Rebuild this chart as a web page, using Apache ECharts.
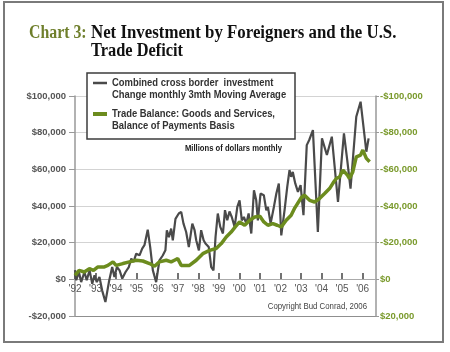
<!DOCTYPE html>
<html><head><meta charset="utf-8">
<script src="https://cdn.jsdelivr.net/npm/echarts@6/dist/echarts.min.js"></script>
<style>html,body{margin:0;padding:0;background:#fff}#c{width:450px;height:352px}</style>
</head><body><div id="c"></div>
<script>
// Combined cross border investment, change monthly, 3mth moving average ($ millions)
const investYears = [1992.00,1992.06,1992.19,1992.30,1992.46,1992.57,1992.71,1992.84,1992.95,1993.06,1993.19,1993.32,1993.48,1993.65,1993.81,1993.92,1994.04,1994.17,1994.30,1994.46,1994.62,1994.74,1994.85,1994.98,1995.14,1995.27,1995.38,1995.54,1995.66,1995.79,1995.95,1996.11,1996.27,1996.40,1996.47,1996.57,1996.68,1996.76,1996.89,1997.05,1997.17,1997.28,1997.41,1997.54,1997.71,1997.82,1997.90,1998.03,1998.14,1998.26,1998.35,1998.51,1998.63,1998.74,1998.84,1998.95,1999.07,1999.20,1999.30,1999.41,1999.52,1999.63,1999.77,1999.90,2000.01,2000.12,2000.22,2000.34,2000.45,2000.58,2000.71,2000.82,2000.90,2001.03,2001.19,2001.31,2001.39,2001.52,2001.68,2001.80,2001.92,2002.04,2002.20,2002.33,2002.44,2002.52,2002.60,2002.72,2002.85,2002.98,2003.12,2003.28,2003.40,2003.58,2003.82,2004.02,2004.26,2004.50,2004.65,2004.80,2005.09,2005.25,2005.41,2005.69,2005.90,2006.18,2006.29];
const investValues = [5000,-500,4000,-1500,4000,-500,4900,-2400,2200,-1500,1300,-6000,-12400,-1500,6700,1300,6700,4900,400,4000,6700,11300,9500,14000,13100,16800,18600,27100,17600,4900,-1500,10400,13000,15800,26700,23000,27700,21300,33000,35900,36800,30400,25800,17600,30400,26800,21300,15800,26800,21300,19500,17600,6700,4900,23100,35900,28600,25000,37700,32200,37000,34000,28600,39500,43100,32200,34000,30400,35900,25000,48600,43100,32200,46800,45900,37700,39500,30400,39500,46800,52300,24000,37700,50400,59600,55900,58600,52300,47700,51400,35000,73200,76000,81400,25800,76900,67800,77800,60000,42200,79600,65000,49500,88700,96900,69600,76900];

// Trade balance: goods and services, balance of payments basis ($ millions)
const tradeYears = [1992.00,1992.20,1992.45,1992.70,1992.90,1993.10,1993.40,1993.60,1993.85,1994.00,1994.33,1994.65,1994.98,1995.30,1995.63,1995.87,1996.11,1996.44,1996.68,1996.84,1997.00,1997.17,1997.57,1997.90,1998.22,1998.55,1998.87,1999.12,1999.36,1999.60,1999.80,2000.01,2000.26,2000.50,2000.75,2001.00,2001.19,2001.39,2001.63,2001.84,2002.04,2002.28,2002.52,2002.70,2003.01,2003.17,2003.42,2003.66,2003.90,2004.15,2004.39,2004.60,2004.72,2004.88,2005.04,2005.26,2005.36,2005.52,2005.69,2005.90,2006.01,2006.18,2006.34];
const tradeValues = [-2200,-4900,-4000,-5800,-4900,-6700,-6700,-7600,-9500,-7600,-8600,-9500,-10400,-10000,-8600,-7100,-9500,-10400,-9500,-10400,-11300,-7600,-7600,-10400,-14000,-15800,-16800,-19500,-23100,-25800,-28600,-31300,-29500,-32200,-34000,-34400,-31300,-29500,-30400,-29500,-28600,-32200,-35000,-39000,-44500,-45900,-43100,-42200,-44100,-46800,-49500,-53200,-55000,-55900,-59600,-56800,-55000,-58600,-66800,-67800,-70500,-66000,-64100];

const seriesNames = ['Combined cross border  investment\nChange monthly 3mth Moving Average', 'Trade Balance: Goods and Services,\nBalance of Payments Basis'];
const titleLead = 'Chart 3:';
const titleLine1 = 'Net Investment by Foreigners and the U.S.';
const titleLine2 = 'Trade Deficit';
const unitNote = 'Millions of dollars monthly';
const copyright = 'Copyright Bud Conrad, 2006';

const money = v => (v < 0 ? '-' : '') + '$' + Math.abs(v).toLocaleString('en-US');
const GRAY = '#4a4a4a', GREEN = '#6c8c1e';
const SANS = 'Liberation Sans, Arial, sans-serif';
const NARROW = "'Liberation Sans Narrow', 'Arial Narrow', 'Liberation Sans', sans-serif";
const SERIF = "'Liberation Serif', 'Times New Roman', serif";

const chart = echarts.init(document.getElementById('c'), null, {renderer: 'canvas'});
const legendLines = seriesNames.map(s => s.split('\n'));

chart.setOption({
  animation: false,
  backgroundColor: '#fff',
  grid: {left: 75, right: 74, top: 96, bottom: 36, containLabel: false},
  xAxis: {
    type: 'value', min: 1992, max: 2006.65, interval: 1, position: 'bottom', offset: -37,
    axisLine: {show: true, onZero: false, lineStyle: {color: '#aaa', width: 1}},
    axisTick: {show: true, inside: true, length: 6, lineStyle: {color: '#444', width: 1.5}},
    axisLabel: {formatter: v => Number.isInteger(v) ? "'" + String(v).slice(2) : '', margin: 5, color: '#555', fontSize: 10, fontFamily: NARROW, showMaxLabel: false},
    splitLine: {show: false}
  },
  yAxis: [{
    type: 'value', min: -20000, max: 100000, interval: 20000, position: 'left',
    axisLine: {show: true, lineStyle: {color: '#999', width: 1.5}},
    axisTick: {show: true, length: 6, lineStyle: {color: '#999'}},
    axisLabel: {formatter: money, color: '#555', fontWeight: 'bold', fontSize: 9.5, fontFamily: SANS, margin: 9},
    splitLine: {show: true, lineStyle: {color: ['#8f8f8f', '#b8b8b8', '#d3d3d3', '#d3d3d3', '#d3d3d3', '#d3d3d3', '#d3d3d3'], width: 1}}
  }, {
    type: 'value', inverse: true, min: -100000, max: 20000, interval: 20000, position: 'right',
    axisLine: {show: true, lineStyle: {color: '#999', width: 1.5}},
    axisTick: {show: true, length: 3, lineStyle: {color: '#999'}},
    axisLabel: {formatter: money, color: '#7a9a2c', fontWeight: 'bold', fontSize: 9.5, fontFamily: SANS, margin: 4},
    splitLine: {show: false}
  }],
  series: [{
    name: seriesNames[0], type: 'line', yAxisIndex: 0, symbol: 'none', z: 3,
    lineStyle: {color: GRAY, width: 2.2},
    data: investYears.map((x, i) => [x, investValues[i]])
  }, {
    name: seriesNames[1], type: 'line', yAxisIndex: 1, symbol: 'none', z: 4,
    lineStyle: {color: GREEN, width: 3.5},
    data: tradeYears.map((x, i) => [x, tradeValues[i]])
  }],
  graphic: [
    {type: 'rect', silent: true, z: 0, shape: {x: 4, y: 2, width: 439, height: 340}, style: {fill: 'none', stroke: '#7a7a7a', lineWidth: 2}},
    {type: 'text', x: 29, y: 33, scaleX: 0.88, z: 20, style: {text: titleLead, fill: '#6f7f2c', font: 'bold 18px ' + SERIF, verticalAlign: 'middle'}},
    {type: 'text', x: 91, y: 33, scaleX: 0.935, z: 20, style: {text: titleLine1, fill: '#111', font: 'bold 18px ' + SERIF, verticalAlign: 'middle'}},
    {type: 'text', x: 91, y: 51, scaleX: 0.91, z: 20, style: {text: titleLine2, fill: '#111', font: 'bold 18px ' + SERIF, verticalAlign: 'middle'}},
    {type: 'rect', z: 20, shape: {x: 87, y: 73, width: 208, height: 66}, style: {fill: '#fff', stroke: '#3c3c3c', lineWidth: 1.5}},
    {type: 'line', z: 21, shape: {x1: 93, y1: 83, x2: 107, y2: 83}, style: {stroke: GRAY, lineWidth: 2.5}},
    {type: 'line', z: 21, shape: {x1: 93, y1: 114, x2: 107, y2: 114}, style: {stroke: GREEN, lineWidth: 4}},
    {type: 'text', x: 112, y: 83, scaleX: 0.82, z: 21, style: {text: legendLines[0][0], fill: '#333', font: 'bold 11.5px ' + SANS, verticalAlign: 'middle'}},
    {type: 'text', x: 112, y: 95, scaleX: 0.82, z: 21, style: {text: legendLines[0][1], fill: '#333', font: 'bold 11.5px ' + SANS, verticalAlign: 'middle'}},
    {type: 'text', x: 112, y: 114, scaleX: 0.82, z: 21, style: {text: legendLines[1][0], fill: '#333', font: 'bold 11.5px ' + SANS, verticalAlign: 'middle'}},
    {type: 'text', x: 112, y: 126, scaleX: 0.82, z: 21, style: {text: legendLines[1][1], fill: '#333', font: 'bold 11.5px ' + SANS, verticalAlign: 'middle'}},
    {type: 'text', x: 185, y: 149, scaleX: 0.9, z: 21, style: {text: unitNote, fill: '#1a1a1a', font: 'bold 8.5px ' + SANS, verticalAlign: 'middle'}},
    {type: 'text', x: 367, y: 307, scaleX: 0.87, z: 21, style: {text: copyright, fill: '#444', font: '9px ' + SANS, align: 'right', verticalAlign: 'middle'}}
  ]
});
</script>
</body></html>
